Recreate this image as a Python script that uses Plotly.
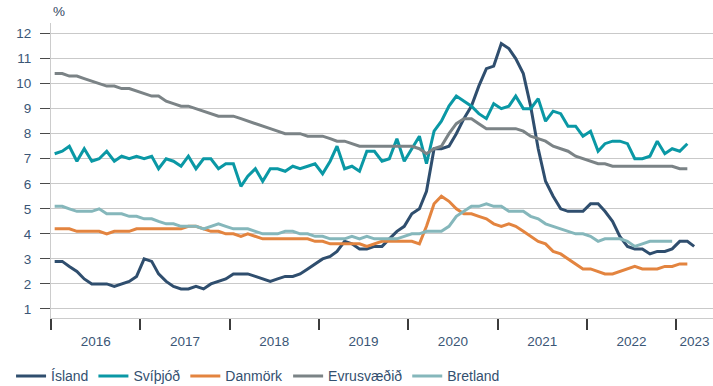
import pandas as pd
import plotly.graph_objects as go

# Monthly unemployment rate, %, from January 2016
island = [
    2.9, 2.9, 2.7, 2.5, 2.2, 2.0, 2.0, 2.0, 1.9, 2.0, 2.1, 2.3,
    3.0, 2.9, 2.4, 2.1, 1.9, 1.8, 1.8, 1.9, 1.8, 2.0, 2.1, 2.2,
    2.4, 2.4, 2.4, 2.3, 2.2, 2.1, 2.2, 2.3, 2.3, 2.4, 2.6, 2.8,
    3.0, 3.1, 3.3, 3.7, 3.6, 3.4, 3.4, 3.5, 3.5, 3.8, 4.1, 4.3,
    4.8, 5.0, 5.7, 7.4, 7.4, 7.5, 8.0, 8.6, 9.1, 9.9, 10.6, 10.7,
    11.6, 11.4, 11.0, 10.4, 9.1, 7.4, 6.1, 5.5, 5.0, 4.9, 4.9, 4.9,
    5.2, 5.2, 4.9, 4.5, 3.9, 3.5, 3.4, 3.4, 3.2, 3.3, 3.3, 3.4,
    3.7, 3.7, 3.5,
]
svithjod = [
    7.2, 7.3, 7.5, 6.9, 7.4, 6.9, 7.0, 7.3, 6.9, 7.1, 7.0, 7.1,
    7.0, 7.1, 6.6, 7.0, 6.9, 6.7, 7.1, 6.6, 7.0, 7.0, 6.6, 6.8,
    6.8, 5.9, 6.3, 6.6, 6.1, 6.6, 6.6, 6.5, 6.7, 6.6, 6.7, 6.8,
    6.4, 6.9, 7.5, 6.6, 6.7, 6.5, 7.3, 7.3, 6.9, 7.0, 7.8, 6.9,
    7.4, 7.9, 6.8, 8.1, 8.5, 9.1, 9.5, 9.3, 9.1, 8.8, 8.6, 9.2,
    9.0, 9.1, 9.5, 9.0, 9.0, 9.4, 8.5, 8.9, 8.8, 8.3, 8.3, 7.9,
    8.1, 7.3, 7.6, 7.7, 7.7, 7.6, 7.0, 7.0, 7.1, 7.7, 7.2, 7.4,
    7.3, 7.6,
]
danmork = [
    4.2, 4.2, 4.2, 4.1, 4.1, 4.1, 4.1, 4.0, 4.1, 4.1, 4.1, 4.2,
    4.2, 4.2, 4.2, 4.2, 4.2, 4.2, 4.3, 4.3, 4.2, 4.1, 4.1, 4.0,
    4.0, 3.9, 4.0, 3.9, 3.8, 3.8, 3.8, 3.8, 3.8, 3.8, 3.8, 3.7,
    3.7, 3.6, 3.6, 3.6, 3.6, 3.6, 3.5, 3.6, 3.7, 3.7, 3.7, 3.7,
    3.7, 3.6, 4.3, 5.2, 5.5, 5.3, 5.0, 4.8, 4.8, 4.7, 4.6, 4.4,
    4.3, 4.4, 4.3, 4.1, 3.9, 3.7, 3.6, 3.3, 3.2, 3.0, 2.8, 2.6,
    2.6, 2.5, 2.4, 2.4, 2.5, 2.6, 2.7, 2.6, 2.6, 2.6, 2.7, 2.7,
    2.8, 2.8,
]
evrusvaedid = [
    10.4, 10.4, 10.3, 10.3, 10.2, 10.1, 10.0, 9.9, 9.9, 9.8, 9.8, 9.7,
    9.6, 9.5, 9.5, 9.3, 9.2, 9.1, 9.1, 9.0, 8.9, 8.8, 8.7, 8.7,
    8.7, 8.6, 8.5, 8.4, 8.3, 8.2, 8.1, 8.0, 8.0, 8.0, 7.9, 7.9,
    7.9, 7.8, 7.7, 7.7, 7.6, 7.5, 7.5, 7.5, 7.5, 7.5, 7.5, 7.5,
    7.5, 7.4, 7.2, 7.4, 7.5, 8.0, 8.4, 8.6, 8.6, 8.4, 8.2, 8.2,
    8.2, 8.2, 8.2, 8.1, 7.9, 7.8, 7.7, 7.5, 7.4, 7.3, 7.1, 7.0,
    6.9, 6.8, 6.8, 6.7, 6.7, 6.7, 6.7, 6.7, 6.7, 6.7, 6.7, 6.7,
    6.6, 6.6,
]
bretland = [
    5.1, 5.1, 5.0, 4.9, 4.9, 4.9, 5.0, 4.8, 4.8, 4.8, 4.7, 4.7,
    4.6, 4.6, 4.5, 4.4, 4.4, 4.3, 4.3, 4.3, 4.2, 4.3, 4.4, 4.3,
    4.2, 4.2, 4.2, 4.1, 4.0, 4.0, 4.0, 4.1, 4.1, 4.0, 4.0, 3.9,
    3.9, 3.8, 3.8, 3.8, 3.9, 3.8, 3.9, 3.8, 3.8, 3.8, 3.8, 3.9,
    4.0, 4.0, 4.1, 4.1, 4.1, 4.3, 4.7, 4.9, 5.1, 5.1, 5.2, 5.1,
    5.1, 4.9, 4.9, 4.9, 4.7, 4.6, 4.4, 4.3, 4.2, 4.1, 4.0, 4.0,
    3.9, 3.7, 3.8, 3.8, 3.8, 3.7, 3.5, 3.6, 3.7, 3.7, 3.7, 3.7,
]

year_labels = ["2016", "2017", "2018", "2019", "2020", "2021", "2022", "2023"]

series = [
    ("Ísland", island, "#2f4e6e"),
    ("Svíþjóð", svithjod, "#0a98a5"),
    ("Danmörk", danmork, "#e3843f"),
    ("Evrusvæðið", evrusvaedid, "#7b8386"),
    ("Bretland", bretland, "#85b7bb"),
]

# each monthly value sits in the middle of its month
month_start = pd.date_range("2016-01-01", periods=len(island), freq="MS")
month_mid = month_start + pd.Timedelta(days=15)

x_end = pd.Timestamp("2023-06-01")
year_start = [pd.Timestamp(f"{y}-01-01") for y in year_labels]
label_pos = []
for i, ys in enumerate(year_start):
    ye = year_start[i + 1] if i + 1 < len(year_start) else x_end
    label_pos.append(ys + (ye - ys) / 2)

fig = go.Figure()
for name, vals, color in series:
    fig.add_trace(go.Scatter(
        x=month_mid[:len(vals)], y=vals, name=name, mode="lines",
        line=dict(color=color, width=3),
    ))

font_col = "#3a5676"
fig.update_layout(
    width=713, height=386,
    margin=dict(l=51, r=0, t=23, b=68),
    paper_bgcolor="white", plot_bgcolor="white",
    font=dict(family="Arial, Liberation Sans, sans-serif", size=13.5, color=font_col),
    showlegend=True,
    legend=dict(
        orientation="h", xref="container", yref="container",
        x=0.0155, y=0.025, xanchor="left", yanchor="middle",
        font=dict(size=14, color="#33506f"), itemwidth=30,
        traceorder="normal",
    ),
    xaxis=dict(
        type="date", range=[pd.Timestamp("2016-01-01"), x_end],
        tickmode="array", tickvals=label_pos, ticktext=year_labels,
        ticks="", showgrid=False, zeroline=False,
        showline=True, linecolor="#cccccc", linewidth=1,
        ticklabelstandoff=11,
        tickfont=dict(size=13.5, color=font_col),
        minor=dict(
            tickmode="array", tickvals=year_start, ticks="outside",
            ticklen=11, tickwidth=2, tickcolor="#3c3c3c", showgrid=False,
        ),
    ),
    yaxis=dict(
        range=[0.64, 12.42], tickmode="array", tickvals=list(range(1, 13)),
        ticks="outside", ticklen=10, tickwidth=1, tickcolor="#4a4a4a",
        showgrid=True, gridcolor="#c9c9c9", gridwidth=1,
        showline=True, linecolor="#cccccc", linewidth=1,
        zeroline=False, ticklabelstandoff=6,
        tickfont=dict(size=13.5, color=font_col),
    ),
    annotations=[dict(
        text="%", xref="paper", yref="paper", x=0, y=1,
        xanchor="left", yanchor="bottom", yshift=2, showarrow=False,
        font=dict(size=13.5, color="#33475f"),
    )],
)

fig.write_html("out.html")
